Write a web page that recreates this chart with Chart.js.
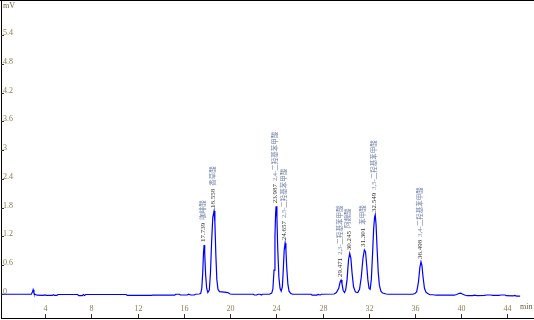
<!DOCTYPE html>
<html>
<head>
<meta charset="utf-8">
<script src="https://cdn.jsdelivr.net/npm/chart.js@4.4.0/dist/chart.umd.min.js"></script>
<style>
  body { margin: 0; background: #ffffff; }
  canvas { display: block; }
</style>
</head>
<body>
<canvas id="chromChart" width="534" height="320"></canvas>
<script>
// Retention times (min) and detector signal (mV)
const retTimes = [
    0.2, 1.0, 2.0, 2.8, 2.9, 2.95, 3.02, 3.1, 3.3, 3.8, 4.0, 4.1, 4.6, 4.7, 4.8, 5.0, 5.1,
    6.8, 6.9, 7.2, 7.3, 7.4, 7.5, 11.0, 11.1, 13.2, 13.3, 15.2, 15.3, 15.6, 15.7, 16.3, 16.4,
    16.6, 16.9, 17.0, 17.3,
    17.45, 17.55, 17.63, 17.7, 17.75, 17.8, 17.88, 17.97, 18.07,
    18.2, 18.3, 18.4, 18.5, 18.61, 18.68, 18.76, 18.85, 18.95, 19.08, 19.5, 19.8, 20.0, 20.2,
    22.0, 22.1, 22.3, 22.4, 22.6, 22.7, 22.8, 23.4, 23.6,
    23.7, 23.8, 23.88, 23.94, 23.98, 24.05, 24.12, 24.22, 24.32, 24.42,
    24.52, 24.6, 24.68, 24.76, 24.83, 24.9, 25.0, 25.1, 25.25, 25.4,
    27.0, 27.1, 27.5, 27.6, 27.8, 27.9, 29.0,
    29.2, 29.4, 29.52, 29.6, 29.68, 29.78, 29.9,
    30.0, 30.12, 30.25, 30.35, 30.45, 30.55, 30.68, 30.85,
    31.05, 31.2, 31.35, 31.5, 31.62, 31.72, 31.82, 31.92, 32.02,
    32.12, 32.22, 32.32, 32.42, 32.5, 32.56, 32.63, 32.72, 32.82, 32.92, 33.05, 33.2, 33.5, 33.7,
    35.8, 36.0, 36.15, 36.3, 36.42, 36.52, 36.6, 36.7, 36.82, 36.95, 37.1, 37.3, 37.6, 37.8,
    39.4, 39.6, 39.8, 39.95, 40.1, 40.3, 40.5, 41.0, 41.1, 41.4, 42.0, 42.2, 42.6, 42.7,
    43.3, 43.4, 43.8, 43.9, 44.5, 44.6, 44.8, 45.1
];
const signalMv = [
    -0.005, -0.005, -0.005, -0.005, 0.05, 0.09, 0.02, -0.005, -0.025, -0.03, -0.02, -0.03, -0.03, -0.015, -0.03, -0.03, -0.01,
    -0.01, -0.035, -0.035, -0.01, -0.03, -0.01, -0.01, -0.03, -0.03, -0.025, -0.025, -0.005, -0.005, -0.02, -0.02, -0.005,
    -0.02, -0.02, -0.005, 0.0,
    0.01, 0.12, 0.45, 0.88, 1.02, 0.85, 0.4, 0.12, 0.03,
    0.08, 0.45, 1.1, 1.6, 1.73, 1.5, 0.85, 0.3, 0.1, 0.05, 0.04, 0.03, 0.0, -0.005,
    -0.005, -0.02, -0.02, -0.005, -0.005, -0.02, -0.005, -0.005, 0.02,
    0.1, 0.5, 1.2, 1.7, 1.83, 1.6, 0.95, 0.35, 0.12, 0.06,
    0.15, 0.5, 0.92, 1.06, 0.92, 0.55, 0.2, 0.06, 0.01, -0.005,
    -0.005, -0.025, -0.025, -0.01, -0.02, -0.005, 0.0,
    0.03, 0.12, 0.25, 0.29, 0.22, 0.08, 0.03,
    0.08, 0.3, 0.72, 0.85, 0.75, 0.45, 0.15, 0.04,
    0.03, 0.1, 0.35, 0.75, 0.92, 0.88, 0.6, 0.3, 0.12,
    0.1, 0.3, 0.8, 1.35, 1.6, 1.65, 1.45, 0.95, 0.45, 0.18, 0.06, 0.02, 0.0, -0.005,
    -0.005, 0.01, 0.05, 0.25, 0.55, 0.67, 0.6, 0.35, 0.12, 0.04, 0.01, -0.015, -0.015, -0.025,
    -0.025, -0.01, 0.01, 0.02, 0.0, -0.02, -0.035, -0.035, -0.025, -0.035, -0.03, -0.02, -0.02, -0.03,
    -0.03, -0.02, -0.02, -0.035, -0.04, -0.03, -0.045, -0.045
];

// Peak annotations
const peakRt = [17.75, 18.61, 23.98, 24.76, 29.6, 30.35, 31.62, 32.56, 36.52];
const peakRtText = ['17.739', '18.558', '23.987', '24.657', '29.471', '30.245', '31.301', '32.549', '36.498'];
const peakNames = ['咖啡酸', '香草酸', '2,4-二羟基苯甲酸', '2,5-二羟基苯甲酸', '2,3-二羟基苯甲酸',
    '阿魏酸', '苯甲酸', '3,5-二羟基苯甲酸', '3,4-二羟基苯甲酸'];

// Axis ticks
const xTicks = [4, 8, 12, 16, 20, 24, 28, 32, 36, 40, 44];
const yTicks = [0, 0.6, 1.2, 1.8, 2.4, 3, 3.6, 4.2, 4.8, 5.4];
const yTickText = ['0', '0.6', '1.2', '1.8', '2.4', '3', '3.6', '4.2', '4.8', '5.4'];

const points = retTimes.map((t, i) => ({ x: t, y: signalMv[i] }));

const tickColor = '#8a7d50';
const tickFont = '8px "Liberation Serif", "DejaVu Serif", serif';

function peakTop(rt) {
    let top = 0;
    retTimes.forEach((t, i) => {
        if (Math.abs(t - rt) < 0.12 && signalMv[i] > top) top = signalMv[i];
    });
    return top;
}

// Axis decorations and peak labels
const decorPlugin = {
    id: 'decor',
    afterDraw(chart) {
        const ctx = chart.ctx;
        const xs = chart.scales.x;
        const ys = chart.scales.y;
        const area = chart.chartArea;
        ctx.save();

        // top frame line
        ctx.strokeStyle = '#000000';
        ctx.lineWidth = 1;
        ctx.beginPath();
        ctx.moveTo(0, 0.5);
        ctx.lineTo(chart.width, 0.5);
        ctx.stroke();

        ctx.font = tickFont;
        ctx.fillStyle = tickColor;

        // y ticks
        yTicks.forEach((v, i) => {
            const py = Math.round(ys.getPixelForValue(v)) + 0.5;
            ctx.strokeStyle = '#333333';
            ctx.beginPath();
            ctx.moveTo(area.left, py);
            ctx.lineTo(area.left + 3, py);
            ctx.stroke();
            ctx.textAlign = 'left';
            ctx.textBaseline = 'middle';
            ctx.fillText(yTickText[i], area.left + 2, py - 3);
        });

        // x ticks
        xTicks.forEach(v => {
            const px = Math.round(xs.getPixelForValue(v)) + 0.5;
            ctx.strokeStyle = '#333333';
            ctx.beginPath();
            ctx.moveTo(px, area.bottom);
            ctx.lineTo(px, area.bottom - 4);
            ctx.stroke();
            ctx.textAlign = 'center';
            ctx.textBaseline = 'middle';
            ctx.fillText(String(v), px, area.bottom - 9);
        });

        // units
        ctx.fillStyle = '#6a5f40';
        ctx.textAlign = 'left';
        ctx.textBaseline = 'middle';
        ctx.fillText('mV', area.left + 2, 6);
        ctx.fillText('min', 520, 307);

        // peak labels, rotated
        peakRt.forEach((rt, i) => {
            const px = xs.getPixelForValue(rt) - 1;
            const py = ys.getPixelForValue(peakTop(rt)) - 3;
            ctx.save();
            ctx.translate(px, py);
            ctx.rotate(-Math.PI / 2);
            ctx.textAlign = 'left';
            ctx.textBaseline = 'middle';
            ctx.font = '7px "Liberation Serif", serif';
            ctx.fillStyle = '#333333';
            ctx.fillText(peakRtText[i], 0, 0);
            const w = ctx.measureText(peakRtText[i]).width;
            ctx.font = '6.5px "Liberation Serif", "Noto Sans CJK SC", serif';
            ctx.fillStyle = '#7080a8';
            ctx.fillText(peakNames[i], w + 3, 0);
            ctx.restore();
        });

        ctx.restore();
    }
};

document.addEventListener('DOMContentLoaded', function() {
    const ctx = document.getElementById('chromChart').getContext('2d');
    new Chart(ctx, {
        type: 'line',
        data: {
            datasets: [{
                data: points,
                borderColor: '#0000ff',
                borderWidth: 1.2,
                pointRadius: 0,
                tension: 0,
                fill: false
            }]
        },
        options: {
            responsive: false,
            animation: false,
            layout: { padding: { left: 1, top: 1, right: 0, bottom: 2 } },
            plugins: {
                legend: { display: false },
                tooltip: { enabled: false }
            },
            scales: {
                x: {
                    type: 'linear',
                    min: 0.17,
                    max: 46.3,
                    grid: { display: false, drawTicks: false, tickLength: 0 },
                    ticks: { display: false },
                    border: { display: true, color: '#000000', width: 1 }
                },
                y: {
                    type: 'linear',
                    min: -0.5,
                    max: 6.11,
                    grid: { display: false, drawTicks: false, tickLength: 0 },
                    ticks: { display: false },
                    border: { display: true, color: '#000000', width: 1 }
                }
            }
        },
        plugins: [decorPlugin]
    });
});
</script>
</body>
</html>
